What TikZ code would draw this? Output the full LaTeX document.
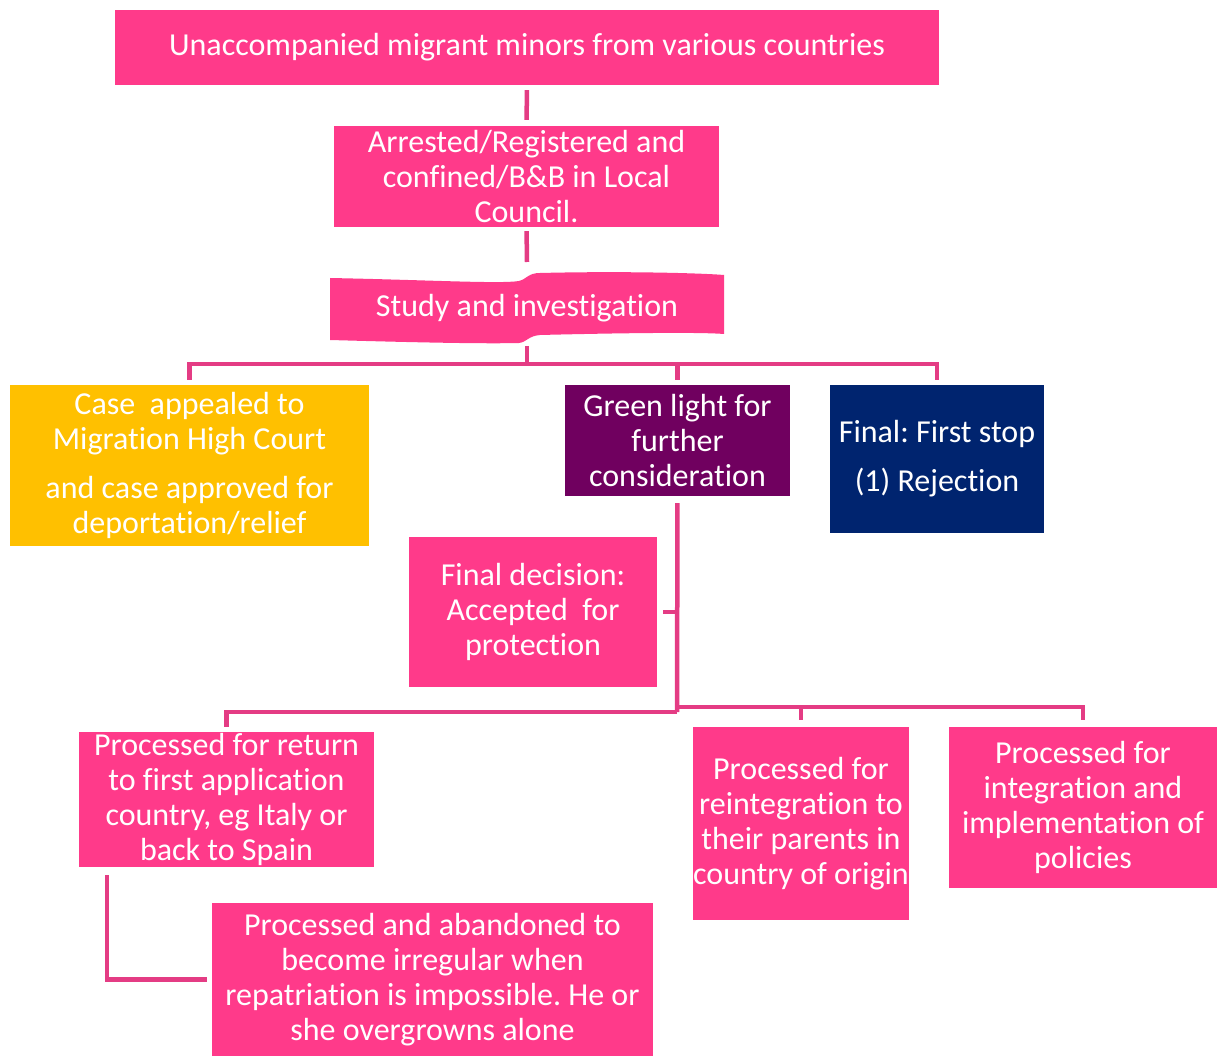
\documentclass[tikz,border=0pt]{standalone}
\usepackage{fontspec}
\setmainfont{Carlito}[Ligatures=NoCommon]
\definecolor{boxpink}{HTML}{FF3A8A}
\definecolor{linkpink}{HTML}{E43C84}
\definecolor{caseyellow}{HTML}{FFC000}
\definecolor{greenpurple}{HTML}{70005F}
\definecolor{stopnavy}{HTML}{00246F}
\tikzset{
	flowbox/.style={rectangle, fill=boxpink, text=white, align=center, inner sep=0pt,
		font=\fontsize{32}{35}\selectfont\frenchspacing},
	link/.style={draw=linkpink, line width=4.5pt}
}
\begin{document}
\begin{tikzpicture}[x=1pt,y=-1pt]
\useasboundingbox (0,0) rectangle (1221,1056);
\begin{scope}
\node[flowbox, minimum width=824pt, minimum height=75pt] (top) at (527,47.5) {Unaccompanied migrant minors from various countries};
\node[flowbox, minimum width=385pt, minimum height=101pt] (arrested) at (526.5,176.5) {Arrested/Registered and\\confined/B\&B in Local\\Council.};

% wavy banner
\fill[boxpink] (330,278) .. controls (430,280) and (500,284) .. (519,281)
	.. controls (527,279) and (528,273) .. (540,273)
	.. controls (620,271) and (700,273) .. (724,275) -- (724,334)
	.. controls (700,332) and (620,333) .. (540,335)
	.. controls (528,336) and (527,342) .. (519,343)
	.. controls (480,344) and (400,342) .. (330,340) -- cycle;
\node[flowbox, fill=none] (study) at (527,308) {Study and investigation};
\coordinate (studytop) at (527,262);
\coordinate (studybot) at (527,346);
\coordinate (bus) at (527,364);

\node[flowbox, fill=caseyellow, minimum width=359pt, minimum height=161pt] (appeal) at (189.5,465.5) {Case\ \ appealed to\\Migration High Court\\[14pt]and case approved for\\deportation/relief};
\node[flowbox, fill=greenpurple, minimum width=225pt, minimum height=111pt] (green) at (677.5,440.5) {Green light for\\further\\consideration};
\node[flowbox, fill=stopnavy, minimum width=214pt, minimum height=148pt] (reject) at (937,459) {Final: First stop\\[14pt](1) Rejection};

\node[flowbox, minimum width=248pt, minimum height=150pt] (decision) at (533,612) {Final decision:\\Accepted\ \ for\\protection};
\coordinate (lbus) at (677,712);
\coordinate (rbus) at (677,707);

\node[flowbox, minimum width=295pt, minimum height=135pt] (ret) at (226.5,799.5) {Processed for return\\to first application\\country, eg Italy or\\back to Spain};
\node[flowbox, minimum width=216pt, minimum height=193pt] (reint) at (801,823.5) {Processed for\\reintegration to\\their parents in\\country of origin};
\node[flowbox, minimum width=268pt, minimum height=161pt] (integ) at (1083,807.5) {Processed for\\integration and\\implementation of\\policies};
\node[flowbox, minimum width=441pt, minimum height=153pt] (abandon) at (432.5,979.5) {Processed and abandoned to\\become irregular when\\repatriation is impossible. He or\\she overgrowns alone};

\draw[link, shorten <=5pt, shorten >=6pt] (top.south) -- (arrested.north);
\draw[link, shorten <=4pt] (arrested.south) -- (studytop);
\draw[link] (studybot) -- (bus);
\foreach \n in {appeal,green,reject}
{
	\draw[link] (bus) -| ([yshift=5pt]\n.north);
}
\draw[link, shorten <=7pt] (green.south) -- (lbus);
\draw[link, shorten <=6pt] (decision.east) -- (decision.east -| green.south);
\draw[link] (lbus) -| ([yshift=5pt]ret.north);
\foreach \n in {reint,integ}
{
	\draw[link] (rbus) -| ([yshift=7pt]\n.north);
}
\draw[link] ([xshift=28pt,yshift=-8pt]ret.south west) |- ([xshift=-5pt]abandon.west);
\end{scope}
\end{tikzpicture}
\end{document}
